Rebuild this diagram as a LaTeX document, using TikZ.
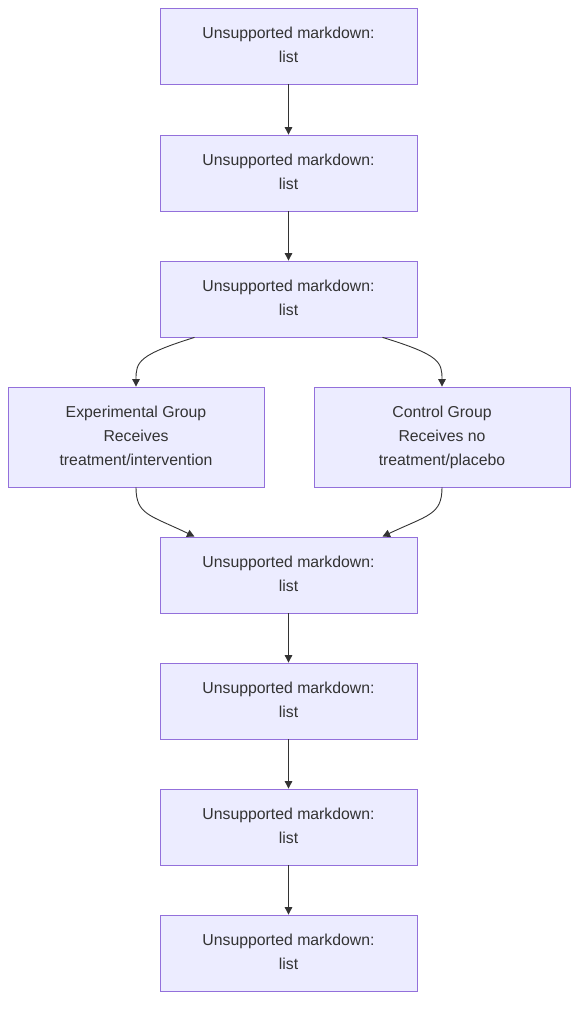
\documentclass[tikz,border=0pt]{standalone}
\usepackage{fontspec}
\setmainfont{Liberation Sans}
\usetikzlibrary{arrows.meta}
\definecolor{boxfill}{HTML}{ECECFF}
\definecolor{boxline}{HTML}{9370DB}
\definecolor{ink}{HTML}{333333}
\tikzset{every node/.style={rectangle,draw=boxline,fill=boxfill,text=ink,align=center,line width=0.8pt,inner sep=0pt}}
\tikzset{step box/.style={minimum width=257pt,minimum height=76pt}}
\tikzset{group box/.style={minimum width=256pt,minimum height=100pt}}
\tikzset{link/.style={draw=ink,line width=0.9pt,-{Triangle[length=7.5pt,width=7.5pt]}}}

\begin{document}
\begin{tikzpicture}[x=1pt,y=-1pt,font=\fontsize{15.8}{24}\selectfont]
      \useasboundingbox (0,0) rectangle (586,1014);
      \node[step box] (A) at (288.5,46) {\strut Unsupported markdown:\\list\strut};
      \node[step box] (B) at (288.5,173) {\strut Unsupported markdown:\\list\strut};
      \node[step box] (C) at (288.5,299) {\strut Unsupported markdown:\\list\strut};
      \node[group box] (E) at (136,437) {\strut Experimental Group\\Receives\\treatment/intervention\strut};
      \node[group box] (K) at (442,437) {\strut Control Group\\Receives no\\treatment/placebo\strut};
      \node[step box] (D) at (288.5,575) {\strut Unsupported markdown:\\list\strut};
      \node[step box] (F) at (288.5,701) {\strut Unsupported markdown:\\list\strut};
      \node[step box] (G) at (288.5,827) {\strut Unsupported markdown:\\list\strut};
      \node[step box] (H) at (288.5,953) {\strut Unsupported markdown:\\list\strut};
      \draw[link] (A) -- (B);
      \draw[link] (B) -- (C);
      \draw[link] ([xshift=-94pt]C.south) .. controls (138,355) and (136,362) .. (E.north);
      \draw[link] ([xshift=94pt]C.south) .. controls (440,355) and (442,362) .. (K.north);
      \draw[link] (E.south) .. controls (136,515) and (150,515) .. ([xshift=-94pt]D.north);
      \draw[link] (K.south) .. controls (442,515) and (428,515) .. ([xshift=94pt]D.north);
      \draw[link] (D) -- (F);
      \draw[link] (F) -- (G);
      \draw[link] (G) -- (H);
    \end{tikzpicture}
\end{document}
